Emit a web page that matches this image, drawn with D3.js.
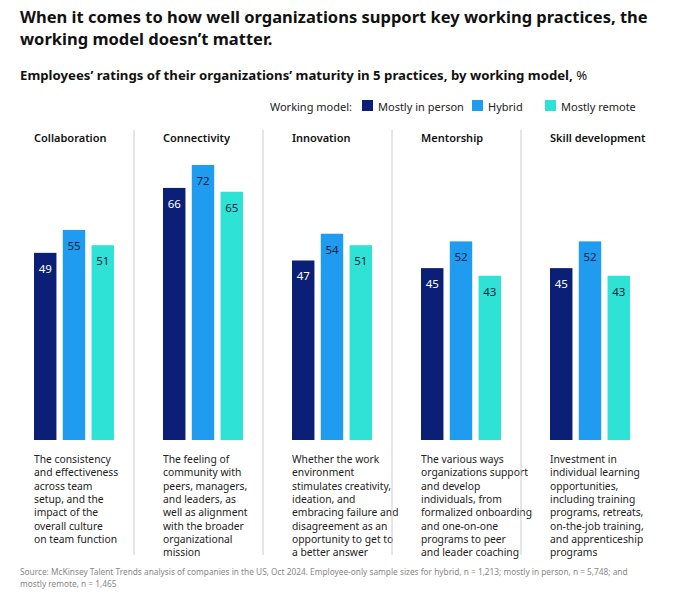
<!DOCTYPE html>
<html><head><meta charset="utf-8">
<script src="https://cdn.jsdelivr.net/npm/d3@7"></script>
<style>body{margin:0;background:#fff;font-family:"Noto Sans",Arial,sans-serif;}</style>
</head><body><div id="chart"></div>
<script>
const practices = ["Collaboration", "Connectivity", "Innovation", "Mentorship", "Skill development"];
const models = ["Mostly in person", "Hybrid", "Mostly remote"];
const inPerson = [49, 66, 47, 45, 45];
const hybrid = [55, 72, 54, 52, 52];
const remote = [51, 65, 51, 43, 43];
const descriptions = [
  ["The consistency", "and effectiveness", "across team", "setup, and the", "impact of the", "overall culture", "on team function"],
  ["The feeling of", "community with", "peers, managers,", "and leaders, as", "well as alignment", "with the broader", "organizational", "mission"],
  ["Whether the work", "environment", "stimulates creativity,", "ideation, and", "embracing failure and", "disagreement as an", "opportunity to get to", "a better answer"],
  ["The various ways", "organizations support", "and develop", "individuals, from", "formalized onboarding", "and one-on-one", "programs to peer", "and leader coaching"],
  ["Investment in", "individual learning", "opportunities,", "including training", "programs, retreats,", "on-the-job training,", "and apprenticeship", "programs"]
];
const colors = ["#0a1f75", "#1f9cf0", "#2ee3d6"];
const labelColors = ["#fff", "#0a1f3f", "#0a1f3f"];

const W = 680, H = 592;
const svg = d3.select("#chart").append("svg").attr("width", W).attr("height", H);

svg.append("text").attr("x", 20).attr("y", 23).attr("font-size", 16.5).attr("font-weight", 700).attr("fill", "#111")
  .text("When it comes to how well organizations support key working practices, the");
svg.append("text").attr("x", 20).attr("y", 45).attr("font-size", 16.5).attr("font-weight", 700).attr("fill", "#111")
  .text("working model doesn\u2019t matter.");
const sub = svg.append("text").attr("x", 20).attr("y", 80).attr("font-size", 13.2).attr("fill", "#111");
sub.append("tspan").attr("font-weight", 700).text("Employees\u2019 ratings of their organizations\u2019 maturity in 5 practices, by working model,");
sub.append("tspan").text(" %");

// legend
const leg = svg.append("g").attr("font-size", 11).attr("fill", "#222");
leg.append("text").attr("x", 352).attr("y", 111).attr("text-anchor", "end").text("Working model:");
const legX = [362, 472, 545];
models.forEach((m, i) => {
  leg.append("rect").attr("x", legX[i]).attr("y", 100).attr("width", 11).attr("height", 11).attr("fill", colors[i]);
  leg.append("text").attr("x", legX[i] + 16).attr("y", 110.5).text(m);
});

const panel = d3.scaleBand().domain(practices).range([5, 650]);
const inner = d3.scaleBand().domain(models).range([29, 109]).paddingInner(0.22);
const y = d3.scaleLinear().domain([0, 72]).range([440, 165]);
const series = [inPerson, hybrid, remote];

practices.forEach((p, pi) => {
  const x0 = panel(p);
  const g = svg.append("g").attr("transform", `translate(${x0},0)`);
  if (pi > 0) g.append("line").attr("x1", 0).attr("x2", 0).attr("y1", 130).attr("y2", 555).attr("stroke", "#ccc");
  g.append("text").attr("x", 29).attr("y", 142).attr("font-size", 11).attr("font-weight", 600).attr("fill", "#111").text(p);
  models.forEach((m, mi) => {
    const v = series[mi][pi];
    g.append("rect").attr("x", inner(m)).attr("y", y(v)).attr("width", inner.bandwidth()).attr("height", y(0) - y(v)).attr("fill", colors[mi]);
    g.append("text").attr("x", inner(m) + inner.bandwidth() / 2).attr("y", y(v) + 20).attr("text-anchor", "middle")
      .attr("font-size", 11.5).attr("fill", labelColors[mi]).text(v);
  });
  const t = g.append("text").attr("x", 29).attr("y", 463).attr("font-size", 10.3).attr("fill", "#222");
  descriptions[pi].forEach((l, li) => t.append("tspan").attr("x", 29).attr("dy", li ? 13.3 : 0).text(l));
});

const src = svg.append("text").attr("x", 20).attr("y", 575).attr("font-size", 8.3).attr("fill", "#888");
src.append("tspan").attr("x", 20).text("Source: McKinsey Talent Trends analysis of companies in the US, Oct 2024. Employee-only sample sizes for hybrid, n = 1,213; mostly in person, n = 5,748; and");
src.append("tspan").attr("x", 20).attr("dy", 11.5).text("mostly remote, n = 1,465");
</script></body></html>
